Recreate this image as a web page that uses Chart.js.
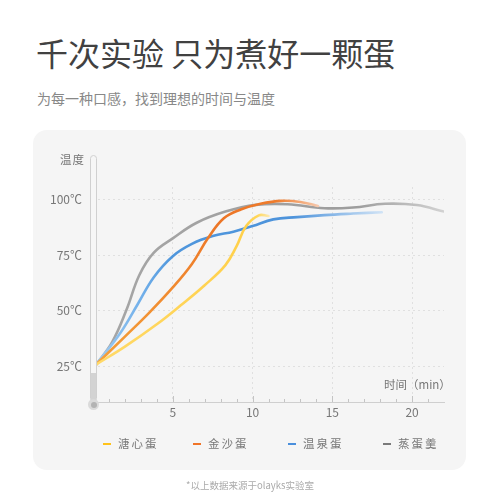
<!DOCTYPE html>
<html>
<head>
<meta charset="utf-8">
<script src="https://cdn.jsdelivr.net/npm/chart.js@4.4.0/dist/chart.umd.min.js"></script>
<style>
    body { margin: 0; width: 500px; height: 500px; background: #fff; position: relative; overflow: hidden;
           font-family: "Noto Sans CJK SC", "Noto Sans", sans-serif; }
    .abs { position: absolute; white-space: nowrap; }
    .title { left: 36px; top: 35px; font-size: 32px; line-height: 34px; color: #414141; }
    .subtitle { left: 37px; top: 89px; font-size: 14px; line-height: 18px; color: #888; }
    .card { left: 33px; top: 130px; width: 433px; height: 340px; background: #f5f5f5; border-radius: 14px; }
    #chart { position: absolute; left: 0; top: 0; }
    .ylabel { left: 60px; top: 151px; font-size: 11.5px; line-height: 16px; color: #777; letter-spacing: 1px; }
    .xlabel { left: 384px; top: 376px; font-size: 11.5px; line-height: 16px; color: #777; }
    .tube { left: 90px; top: 155px; width: 7px; height: 247px; box-sizing: border-box; border: 1px solid #d0d0d0;
            border-radius: 4px; background: #f6f6f6; }
    .fill { left: 91px; top: 373px; width: 5px; height: 29px; background: #d3d3d3; }
    .bulb { left: 88px; top: 399px; width: 11px; height: 11px; border-radius: 50%; background: #dadada; }
    .bulb-in { left: 90.5px; top: 401.5px; width: 6px; height: 6px; border-radius: 50%; background: #b3b3b3; }
    .leg { top: 435px; font-size: 11.5px; line-height: 16px; color: #777; letter-spacing: 2px; }
    .leg i { display: inline-block; width: 8px; height: 2px; vertical-align: middle; margin-right: 7px; position: relative; top: -1px; }
    .note { left: 0; width: 500px; top: 478px; text-align: center; font-size: 9.5px; line-height: 14px; color: #aaa; }
</style>
</head>
<body>
<div class="abs title">千次实验 只为煮好一颗蛋</div>
<div class="abs subtitle">为每一种口感，找到理想的时间与温度</div>
<div class="abs card"></div>
<canvas id="chart" width="500" height="500"></canvas>
<div class="abs ylabel">温度</div>
<div class="abs xlabel">时间（min）</div>
<div class="abs tube"></div>
<div class="abs fill"></div>
<div class="abs bulb"></div>
<div class="abs bulb-in"></div>
<div class="abs leg" style="left:103px"><i style="background:#ffc21a"></i>溏心蛋</div>
<div class="abs leg" style="left:193px"><i style="background:#f07428"></i>金沙蛋</div>
<div class="abs leg" style="left:288px"><i style="background:#4a8fdc"></i>温泉蛋</div>
<div class="abs leg" style="left:383px"><i style="background:#7a7a7a"></i>蒸蛋羹</div>
<div class="abs note">*以上数据来源于olayks实验室</div>

<script>
// 系列名称
const seriesNames = ['溏心蛋', '金沙蛋', '温泉蛋', '蒸蛋羹'];

// 溏心蛋
const softTimes = [0.2, 2.0, 4.0, 5.5, 7.0, 8.3, 9.0, 9.6, 10.4, 11.0];
const softTemps = [26, 34, 44, 52.5, 61.5, 70.5, 79, 88, 92.8, 92.5];

// 金沙蛋
const goldTimes = [0.2, 2.0, 3.5, 5.0, 6.2, 7.2, 8.2, 9.3, 10.5, 11.8, 13.0, 14.1];
const goldTemps = [26, 38.5, 49, 60.5, 71, 82.5, 91.5, 95.5, 98, 99.3, 98.8, 97];

// 温泉蛋
const springTimes = [0.2, 1.7, 2.8, 3.8, 5.0, 6.2, 7.5, 8.8, 10.0, 11.3, 12.8, 14.5, 16.3, 18.1];
const springTemps = [26, 40, 53, 65, 74.5, 80, 83.5, 85.5, 88, 91, 92, 92.9, 93.6, 94.2];

// 蒸蛋羹
const custardTimes = [0.2, 1.2, 2.1, 2.9, 3.8, 5.0, 6.5, 8.3, 10.2, 12.2, 14.5, 16.3, 18.3, 20.3, 22.0];
const custardTemps = [26, 36, 50.5, 66, 76, 82.5, 89.5, 94.5, 97.5, 97.8, 96, 96.3, 98, 97.4, 94.5];

// 刻度
const tempTicks = [25, 50, 75, 100];
const timeLabels = [5, 10, 15, 20];

const toPoints = (xs, ys) => xs.map((x, i) => ({ x: x, y: ys[i] }));

// 线条颜色渐变（按时间轴）
function fade(stops, fallback) {
    return function (ctx) {
        const chart = ctx.chart;
        const xs = chart.scales.x;
        if (!chart.chartArea || !xs) return fallback;
        const x0 = xs.getPixelForValue(0);
        const x1 = xs.getPixelForValue(22);
        const g = chart.ctx.createLinearGradient(x0, 0, x1, 0);
        stops.forEach(([t, c]) => g.addColorStop(Math.min(1, t / 22), c));
        return g;
    };
}

// 刻度短线（向上）
const minorTicks = {
    id: 'minorTicks',
    afterDraw(chart) {
        const xs = chart.scales.x;
        const c = chart.ctx;
        const bottom = chart.chartArea.bottom;
        c.save();
        c.strokeStyle = '#c4c4c4';
        c.lineWidth = 1;
        xs.ticks.forEach(t => {
            if (t.value <= 0 || t.value >= 22) return;
            const px = Math.round(xs.getPixelForValue(t.value)) + 0.5;
            const len = t.value % 5 === 0 ? 6 : 3;
            c.beginPath();
            c.moveTo(px, bottom);
            c.lineTo(px, bottom - len);
            c.stroke();
        });
        c.restore();
    }
};

const lineStyle = {
    borderWidth: 2.6,
    pointRadius: 0,
    fill: false,
    tension: 0.4,
    borderCapStyle: 'round',
    borderJoinStyle: 'round'
};

const font = { family: '"Noto Sans CJK SC", sans-serif', size: 12 };

new Chart(document.getElementById('chart').getContext('2d'), {
    type: 'line',
    data: {
        datasets: [
            { label: seriesNames[0], data: toPoints(softTimes, softTemps), ...lineStyle,
              borderColor: fade([[0, '#ffda6a'], [9.5, '#ffd04a'], [10.3, '#ffd658'], [11, '#fde8ab']], '#ffd04a') },
            { label: seriesNames[1], data: toPoints(goldTimes, goldTemps), ...lineStyle,
              borderColor: fade([[0, '#f5a23a'], [5, '#f08a30'], [8, '#ec7526'], [11.5, '#ef7c2c'], [14.2, '#f7ccb2']], '#ef7c2c') },
            { label: seriesNames[2], data: toPoints(springTimes, springTemps), ...lineStyle,
              borderColor: fade([[0, '#a4cff3'], [3, '#72b0ea'], [5, '#4f96dc'], [12.5, '#4d93db'], [18.2, '#d2e4f6']], '#4d93db') },
            { label: seriesNames[3], data: toPoints(custardTimes, custardTemps), ...lineStyle,
              borderColor: fade([[0, '#a6a6a6'], [16.5, '#9d9d9d'], [22, '#d2d2d2']], '#9d9d9d') }
        ]
    },
    options: {
        responsive: false,
        animation: false,
        layout: { padding: { left: 0, right: 56, top: 187, bottom: 78 } },
        plugins: { legend: { display: false }, tooltip: { enabled: false } },
        scales: {
            x: {
                type: 'linear',
                min: 0,
                max: 22,
                afterFit: s => { s.height = 20; },
                ticks: {
                    stepSize: 1,
                    autoSkip: false,
                    maxRotation: 0,
                    padding: 3,
                    color: '#777',
                    font: font,
                    callback: v => timeLabels.includes(v) ? String(v) : ''
                },
                grid: {
                    drawTicks: false,
                    lineWidth: 1,
                    color: c => (c.tick && timeLabels.includes(c.tick.value)) ? '#e0e0e0' : 'rgba(0,0,0,0)'
                },
                border: { display: true, color: '#cfcfcf', width: 1, dash: [2, 3] }
            },
            y: {
                min: 9.2,
                max: 105.5,
                afterFit: s => { s.width = 93; },
                afterBuildTicks: s => { s.ticks = tempTicks.map(v => ({ value: v })); },
                ticks: {
                    padding: 11,
                    color: '#777',
                    font: font,
                    callback: v => v + '℃'
                },
                grid: { drawTicks: false, color: '#e0e0e0', lineWidth: 1 },
                border: { display: false, dash: [2, 3] }
            }
        }
    },
    plugins: [minorTicks]
});
</script>
</body>
</html>
